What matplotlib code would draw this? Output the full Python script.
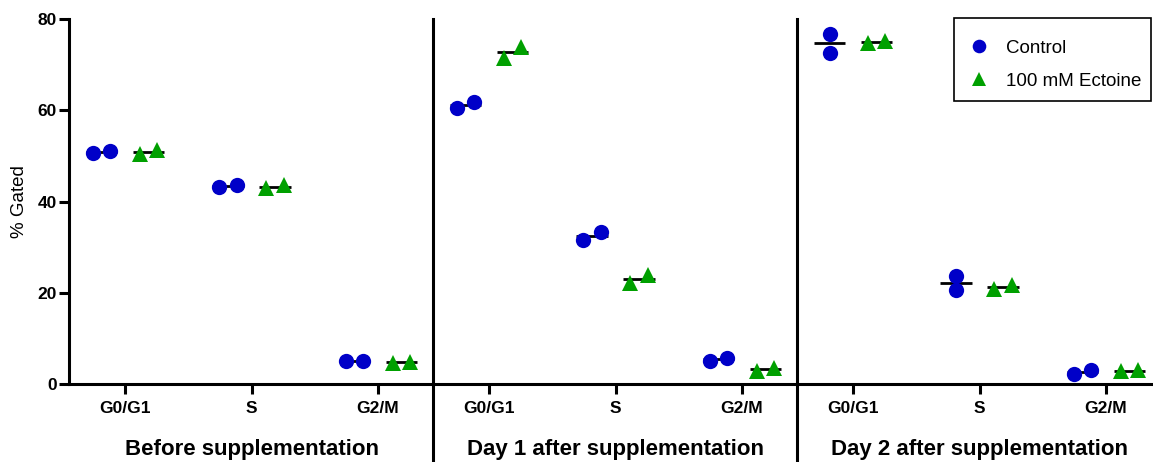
import matplotlib
matplotlib.use('Agg')
import matplotlib.pyplot as plt
import matplotlib.patches as patches
from matplotlib.lines import Line2D
from matplotlib.transforms import blended_transform_factory
import numpy as np

plt.rcParams['font.family'] = ['Liberation Sans', 'DejaVu Sans']

phases = ['G0/G1', 'S', 'G2/M']
panels = ['Before supplementation', 'Day 1 after supplementation', 'Day 2 after supplementation']

# two replicates per phase (G0/G1, S, G2/M), one row per panel
control = [
    [[50.6, 51.0], [43.1, 43.6], [5.0, 5.0]],
    [[60.4, 61.8], [31.6, 33.4], [5.1, 5.8]],
    [[76.7, 72.6], [23.7, 20.6], [2.3, 3.1]],
]
ectoine = [
    [[50.5, 51.3], [42.9, 43.6], [4.7, 4.9]],
    [[71.5, 73.9], [22.1, 24.0], [2.9, 3.6]],
    [[74.7, 75.1], [20.9, 21.6], [2.8, 3.1]],
]

blue = '#0000C8'
green = '#00A000'

W, H = 1153, 462
fig = plt.figure(figsize=(W / 100, H / 100), dpi=100)

left = 69 / W
pw = 364 / W
bottom = 1 - 384 / H
top = 1 - 19 / H

group_off = 0.185   # control left, ectoine right of the tick
spread = 0.07       # side-by-side shift when replicates overlap
half_mean = 0.125   # half width of mean line


def xs_for(center, vals):
    if abs(vals[0] - vals[1]) < 2.9:
        return [center - spread, center + spread]
    return [center, center]


for i, title in enumerate(panels):
    ax = fig.add_axes([left + i * pw, bottom, pw, top - bottom])
    ax.set_xlim(-0.443, 2.435)
    ax.set_ylim(0, 80)

    for j in range(len(phases)):
        for vals, off, mk, col, ms in [(control[i][j], -group_off, 'o', blue, 11),
                                       (ectoine[i][j], group_off, '^', green, 11)]:
            c = j + off
            ax.hlines(np.mean(vals), c - half_mean, c + half_mean,
                      color='black', lw=2, zorder=2)
            ax.plot(xs_for(c, vals), vals, ls='none', marker=mk, color=col,
                    ms=ms, mew=0, zorder=3, clip_on=False)

    for s in ['top', 'right']:
        ax.spines[s].set_visible(False)
    ax.spines['bottom'].set_linewidth(2.2)
    ax.spines['left'].set_linewidth(2.2)

    ax.set_xticks(range(len(phases)))
    ax.set_xticklabels(phases, fontweight='bold')
    ax.tick_params(axis='x', width=2.2, length=7, labelsize=12.5, pad=5)

    if i == 0:
        ax.set_yticks([0, 20, 40, 60, 80])
        ax.set_yticklabels(['0', '20', '40', '60', '80'], fontweight='bold')
        ax.tick_params(axis='y', width=2.2, length=7, labelsize=12.5, pad=2)
    else:
        ax.spines['left'].set_visible(False)
        ax.tick_params(axis='y', left=False, labelleft=False)
        xl = left + i * pw
        fig.add_artist(Line2D([xl, xl], [0, top], transform=fig.transFigure,
                              color='black', lw=2.2))

    tr = blended_transform_factory(ax.transData, fig.transFigure)
    ax.text(1, 1 - 455 / H, title, transform=tr, ha='center', va='baseline',
            fontsize=16, fontweight='bold')

fig.text(20 / W, 1 - 201.5 / H, '% Gated', rotation=90, ha='center',
         va='center', fontsize=13.5)

# legend: entries without frame, box drawn separately
handles = [
    Line2D([], [], ls='none', marker='o', color=blue, ms=9.8, mew=0, label='Control'),
    Line2D([], [], ls='none', marker='^', color=green, ms=10, mew=0, label='100 mM Ectoine'),
]
fig.legend(handles=handles, loc='center left',
           bbox_to_anchor=(970 / W, 1 - 64.5 / H), bbox_transform=fig.transFigure,
           frameon=False, fontsize=13.5, borderaxespad=0, borderpad=0,
           handlelength=1.0, handletextpad=0.9, labelspacing=0.85)
fig.add_artist(patches.Rectangle((954 / W, 1 - 101 / H), 197 / W, 83 / H,
                                 transform=fig.transFigure, fill=False,
                                 edgecolor='black', lw=1.2))

fig.savefig('out.png', dpi=100)
